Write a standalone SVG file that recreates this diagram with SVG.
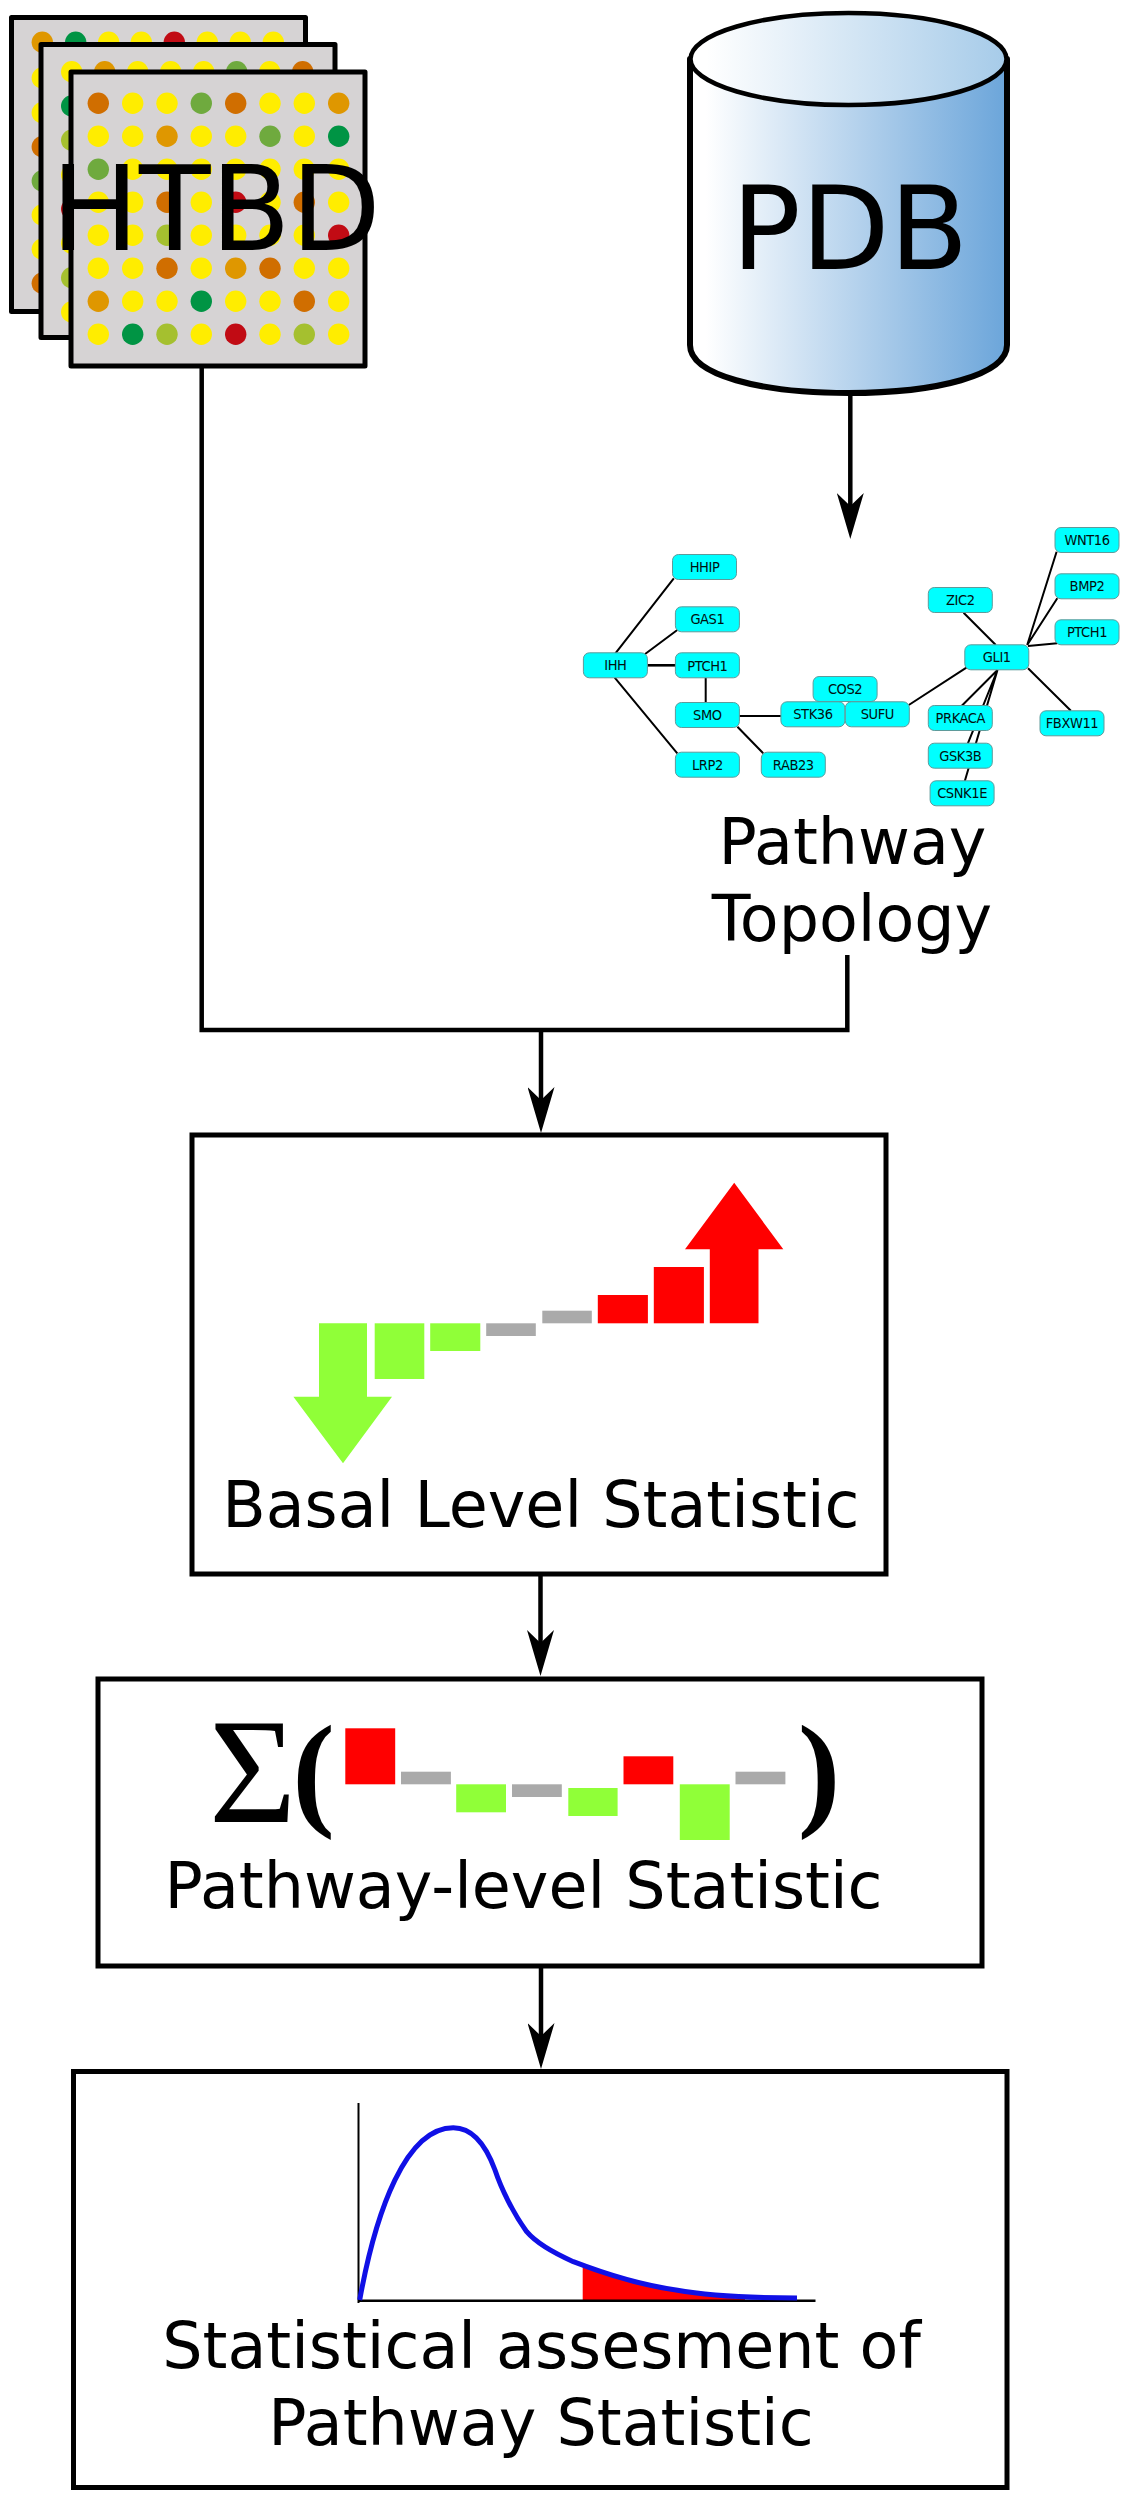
<svg xmlns="http://www.w3.org/2000/svg" width="1131" height="2500" viewBox="0 0 1131 2500">
<style>
text{font-family:"DejaVu Sans",sans-serif;fill:#000}
.lbl{font-size:63.5px;text-anchor:middle}
.card{fill:#d6d3d4;stroke:#000;stroke-width:5;stroke-linejoin:round}
.box{fill:#fff;stroke:#000;stroke-width:5}
.Y{fill:#ffed00}.O{fill:#df9700}.D{fill:#d06e00}.G{fill:#6faa3e}.K{fill:#009444}.L{fill:#a5c02f}.R{fill:#c10b14}
.red{fill:#f00}.grn{fill:#90ff38}.gry{fill:#aaa}
.wire{fill:none;stroke:#000;stroke-width:4.5}
.edge{stroke:#000;stroke-width:2;fill:none}
.nb{fill:#0ff;stroke:#5f9a9a;stroke-width:1}
.nt{font-family:"DejaVu Sans Condensed","DejaVu Sans",sans-serif;font-stretch:condensed;font-size:14.5px;letter-spacing:-.4px;text-anchor:middle;fill:#001010}
.paren{font-family:"Liberation Serif",serif;font-weight:bold;font-size:128px}
</style>
<defs>
<linearGradient id="cyl" x1="0" x2="1" y1="0" y2="0"><stop offset="0.05" stop-color="#fff"/><stop offset="1" stop-color="#6ba5da"/></linearGradient>
<linearGradient id="cyltop" x1="0" x2="1" y1="0" y2="0"><stop offset="0.05" stop-color="#fff"/><stop offset="1" stop-color="#a6cbe9"/></linearGradient>
<marker id="arr" viewBox="0 0 46 27" refX="13" refY="13.5" markerWidth="46" markerHeight="27" markerUnits="userSpaceOnUse" orient="auto"><path d="M46,13.5 L0,0 L13,13.5 L0,27 Z" fill="#000"/></marker>
</defs>
<rect width="1131" height="2500" fill="#fff"/>

<g id="connectors">
<path class="wire" d="M850.3,393 V506" marker-end="url(#arr)"/>
<path class="wire" d="M201.7,366 V1030 H847.3 V955"/>
<path class="wire" d="M541,1030 V1100" marker-end="url(#arr)"/>
<path class="wire" d="M540.5,1574 V1643" marker-end="url(#arr)"/>
<path class="wire" d="M541,1966 V2036" marker-end="url(#arr)"/>
</g>

<g id="htbd">
<rect class="card" x="11.5" y="17.5" width="294" height="294"/>
<g>
<circle class="O" cx="42.3" cy="42.3" r="10.7"/><circle class="K" cx="75.7" cy="42.3" r="10.7"/><circle class="Y" cx="108.7" cy="42.3" r="10.7"/><circle class="Y" cx="141.3" cy="42.3" r="10.7"/><circle class="R" cx="174.3" cy="42.3" r="10.7"/><circle class="Y" cx="207.3" cy="42.3" r="10.7"/><circle class="Y" cx="240.3" cy="42.3" r="10.7"/><circle class="Y" cx="273.3" cy="42.3" r="10.7"/>
<circle class="Y" cx="42.3" cy="78" r="10.7"/><circle class="Y" cx="42.3" cy="112.7" r="10.7"/><circle class="D" cx="42.3" cy="146.7" r="10.7"/><circle class="G" cx="42.3" cy="181" r="10.7"/><circle class="Y" cx="42.3" cy="215" r="10.7"/><circle class="Y" cx="42.3" cy="249.3" r="10.7"/><circle class="D" cx="42.3" cy="283.3" r="10.7"/>
</g>
<rect class="card" x="41" y="44.5" width="294" height="293"/>
<g>
<circle class="Y" cx="71.7" cy="71.7" r="10.7"/><circle class="O" cx="104.7" cy="71.7" r="10.7"/><circle class="Y" cx="137.7" cy="71.7" r="10.7"/><circle class="Y" cx="170.7" cy="71.7" r="10.7"/><circle class="Y" cx="203.7" cy="71.7" r="10.7"/><circle class="G" cx="236.7" cy="71.7" r="10.7"/><circle class="Y" cx="269.7" cy="71.7" r="10.7"/><circle class="D" cx="302.7" cy="71.7" r="10.7"/>
<circle class="K" cx="71.7" cy="106" r="10.7"/><circle class="L" cx="71.7" cy="140.3" r="10.7"/><circle class="Y" cx="71.7" cy="174.7" r="10.7"/><circle class="R" cx="71.7" cy="209" r="10.7"/><circle class="Y" cx="71.7" cy="243.3" r="10.7"/><circle class="L" cx="71.7" cy="277.7" r="10.7"/><circle class="Y" cx="71.7" cy="312" r="10.7"/>
</g>
<rect class="card" x="71" y="72" width="294" height="294"/>
<g>
<circle class="D" cx="98.3" cy="103.3" r="10.7"/><circle class="Y" cx="132.7" cy="103.3" r="10.7"/><circle class="Y" cx="167" cy="103.3" r="10.7"/><circle class="G" cx="201.3" cy="103.3" r="10.7"/><circle class="D" cx="235.7" cy="103.3" r="10.7"/><circle class="Y" cx="270" cy="103.3" r="10.7"/><circle class="Y" cx="304.3" cy="103.3" r="10.7"/><circle class="O" cx="338.7" cy="103.3" r="10.7"/>
<circle class="Y" cx="98.3" cy="136.3" r="10.7"/><circle class="Y" cx="132.7" cy="136.3" r="10.7"/><circle class="O" cx="167" cy="136.3" r="10.7"/><circle class="Y" cx="201.3" cy="136.3" r="10.7"/><circle class="Y" cx="235.7" cy="136.3" r="10.7"/><circle class="G" cx="270" cy="136.3" r="10.7"/><circle class="Y" cx="304.3" cy="136.3" r="10.7"/><circle class="K" cx="338.7" cy="136.3" r="10.7"/>
<circle class="G" cx="98.3" cy="169.3" r="10.7"/><circle class="Y" cx="132.7" cy="169.3" r="10.7"/><circle class="Y" cx="167" cy="169.3" r="10.7"/><circle class="Y" cx="201.3" cy="169.3" r="10.7"/><circle class="Y" cx="235.7" cy="169.3" r="10.7"/><circle class="Y" cx="270" cy="169.3" r="10.7"/><circle class="Y" cx="304.3" cy="169.3" r="10.7"/><circle class="Y" cx="338.7" cy="169.3" r="10.7"/>
<circle class="Y" cx="98.3" cy="202.3" r="10.7"/><circle class="Y" cx="132.7" cy="202.3" r="10.7"/><circle class="D" cx="167" cy="202.3" r="10.7"/><circle class="Y" cx="201.3" cy="202.3" r="10.7"/><circle class="R" cx="235.7" cy="202.3" r="10.7"/><circle class="Y" cx="270" cy="202.3" r="10.7"/><circle class="D" cx="304.3" cy="202.3" r="10.7"/><circle class="Y" cx="338.7" cy="202.3" r="10.7"/>
<circle class="Y" cx="98.3" cy="235.3" r="10.7"/><circle class="Y" cx="132.7" cy="235.3" r="10.7"/><circle class="L" cx="167" cy="235.3" r="10.7"/><circle class="Y" cx="201.3" cy="235.3" r="10.7"/><circle class="Y" cx="235.7" cy="235.3" r="10.7"/><circle class="Y" cx="270" cy="235.3" r="10.7"/><circle class="Y" cx="304.3" cy="235.3" r="10.7"/><circle class="R" cx="338.7" cy="235.3" r="10.7"/>
<circle class="Y" cx="98.3" cy="268.3" r="10.7"/><circle class="Y" cx="132.7" cy="268.3" r="10.7"/><circle class="D" cx="167" cy="268.3" r="10.7"/><circle class="Y" cx="201.3" cy="268.3" r="10.7"/><circle class="O" cx="235.7" cy="268.3" r="10.7"/><circle class="D" cx="270" cy="268.3" r="10.7"/><circle class="Y" cx="304.3" cy="268.3" r="10.7"/><circle class="Y" cx="338.7" cy="268.3" r="10.7"/>
<circle class="O" cx="98.3" cy="301.3" r="10.7"/><circle class="Y" cx="132.7" cy="301.3" r="10.7"/><circle class="Y" cx="167" cy="301.3" r="10.7"/><circle class="K" cx="201.3" cy="301.3" r="10.7"/><circle class="Y" cx="235.7" cy="301.3" r="10.7"/><circle class="Y" cx="270" cy="301.3" r="10.7"/><circle class="D" cx="304.3" cy="301.3" r="10.7"/><circle class="Y" cx="338.7" cy="301.3" r="10.7"/>
<circle class="Y" cx="98.3" cy="334.3" r="10.7"/><circle class="K" cx="132.7" cy="334.3" r="10.7"/><circle class="L" cx="167" cy="334.3" r="10.7"/><circle class="Y" cx="201.3" cy="334.3" r="10.7"/><circle class="R" cx="235.7" cy="334.3" r="10.7"/><circle class="Y" cx="270" cy="334.3" r="10.7"/><circle class="L" cx="304.3" cy="334.3" r="10.7"/><circle class="Y" cx="338.7" cy="334.3" r="10.7"/>
</g>
<text x="216" y="250" font-size="117" text-anchor="middle">HTBD</text>
</g>

<g id="pdb">
<path d="M690,59 V345 C690,375 760,393 848.5,393 C937,393 1007,375 1007,345 V59 Z" fill="url(#cyl)" stroke="#000" stroke-width="6" stroke-linejoin="round"/>
<ellipse cx="848.5" cy="59" rx="158" ry="46" fill="url(#cyltop)" stroke="#000" stroke-width="4.5"/>
<text x="850" y="268.6" font-size="115" text-anchor="middle">PDB</text>
</g>

<g id="pathway-topology">
<g class="edges">
<path class="edge" d="M615.4,653.3 L673.8,578.3 M645.1,654 L677.3,630 M614.7,677.7 L677.3,753.3 M705.7,677.7 V702.7 M739.2,716 H781.1 M737.4,726.7 L763.2,753.3 M908.8,705 L966.4,667.7 M963.6,612.7 L995.8,645 M1027.2,645 L1056.6,551.7 M1027.2,645 L1057.3,598.3 M1028,646 L1057.3,643.3 M1028,668.3 L1070.9,710.7 M997.5,670 L961.8,705.7 M997.5,670 L967.9,743.3 M997.5,670 L964.6,781.7"/>
<path class="edge" style="stroke-width:2.6" d="M647.3,665.3 H675.9"/>
</g>
<g id="n-hhip"><rect class="nb" x="672.5" y="554.5" width="64" height="25" rx="6"/><text class="nt" x="704.5" y="572">HHIP</text></g>
<g id="n-gas1"><rect class="nb" x="675.4" y="606.8" width="64" height="25" rx="6"/><text class="nt" x="707.4" y="624.3">GAS1</text></g>
<g id="n-ihh"><rect class="nb" x="583.4" y="652.8" width="64" height="25" rx="6"/><text class="nt" x="615.4" y="670.3">IHH</text></g>
<g id="n-ptch1a"><rect class="nb" x="675.4" y="652.8" width="64" height="25" rx="6"/><text class="nt" x="707.4" y="670.5">PTCH1</text></g>
<g id="n-smo"><rect class="nb" x="675.4" y="702.5" width="64" height="25" rx="6"/><text class="nt" x="707.4" y="720">SMO</text></g>
<g id="n-lrp2"><rect class="nb" x="675.4" y="752.2" width="64" height="25" rx="6"/><text class="nt" x="707.4" y="769.7">LRP2</text></g>
<g id="n-rab23"><rect class="nb" x="761.3" y="752.2" width="64" height="25" rx="6"/><text class="nt" x="793.3" y="769.7">RAB23</text></g>
<g id="n-cos2"><rect class="nb" x="813.1" y="676.5" width="64" height="25" rx="6"/><text class="nt" x="845.1" y="694">COS2</text></g>
<g id="n-stk36"><rect class="nb" x="780.9" y="701.8" width="64" height="25" rx="6"/><text class="nt" x="812.9" y="719.3">STK36</text></g>
<g id="n-sufu"><rect class="nb" x="845.3" y="701.8" width="64" height="25" rx="6"/><text class="nt" x="877.3" y="719.3">SUFU</text></g>
<g id="n-gli1"><rect class="nb" x="964.8" y="644.8" width="64" height="25" rx="6"/><text class="nt" x="996.8" y="662.3">GLI1</text></g>
<g id="n-zic2"><rect class="nb" x="928.3" y="587.5" width="64" height="25" rx="6"/><text class="nt" x="960.3" y="605">ZIC2</text></g>
<g id="n-wnt16"><rect class="nb" x="1055" y="527.5" width="64" height="25" rx="6"/><text class="nt" x="1087" y="545">WNT16</text></g>
<g id="n-bmp2"><rect class="nb" x="1055" y="573.8" width="64" height="25" rx="6"/><text class="nt" x="1087" y="591.3">BMP2</text></g>
<g id="n-ptch1b"><rect class="nb" x="1055" y="619.8" width="64" height="25" rx="6"/><text class="nt" x="1087" y="637.3">PTCH1</text></g>
<g id="n-fbxw11"><rect class="nb" x="1040" y="710.8" width="64" height="25" rx="6"/><text class="nt" x="1072" y="728.3">FBXW11</text></g>
<g id="n-prkaca"><rect class="nb" x="928.3" y="705.5" width="64" height="25" rx="6"/><text class="nt" x="960.3" y="723">PRKACA</text></g>
<g id="n-gsk3b"><rect class="nb" x="928.3" y="743.2" width="64" height="25" rx="6"/><text class="nt" x="960.3" y="760.7">GSK3B</text></g>
<g id="n-csnk1e"><rect class="nb" x="930.1" y="780.8" width="64" height="25" rx="6"/><text class="nt" x="962.1" y="798.3">CSNK1E</text></g>
<text class="lbl" x="852.5" y="864.3">Pathway</text>
<text class="lbl" x="852" y="940.7">Topology</text>
</g>

<g id="basal-level-statistic">
<rect class="box" x="192" y="1135" width="694" height="439"/>
<path class="grn" d="M319,1323.3 H367 V1396.7 H392 L343,1463.3 L293.4,1396.7 H319 Z"/>
<rect class="grn" x="374.7" y="1323.3" width="49.6" height="55.7"/>
<rect class="grn" x="430.2" y="1323.3" width="50.1" height="27.7"/>
<rect class="gry" x="486.2" y="1323.3" width="49.6" height="12.7"/>
<rect class="gry" x="542.3" y="1310.7" width="49.5" height="12.6"/>
<rect class="red" x="597.8" y="1295" width="50.1" height="28.3"/>
<rect class="red" x="653.8" y="1267" width="50.1" height="56.3"/>
<path class="red" d="M709.8,1323.3 V1249.3 H685 L734.2,1182.7 L783.3,1249.3 H758.5 V1323.3 Z"/>
<text class="lbl" x="540.8" y="1526.5">Basal Level Statistic</text>
</g>

<g id="pathway-level-statistic">
<rect class="box" x="98" y="1679" width="884" height="287"/>
<text x="209" y="1821.5" font-size="150" style="font-family:'Liberation Serif',serif">Σ<tspan class="paren" dx="-4" dy="-9">(</tspan></text>
<rect class="red" x="345.3" y="1728.3" width="49.9" height="56"/>
<rect class="gry" x="401" y="1771.7" width="49.9" height="12.6"/>
<rect class="grn" x="456.2" y="1784.3" width="49.8" height="28"/>
<rect class="gry" x="512" y="1784.3" width="49.8" height="12.7"/>
<rect class="grn" x="568.3" y="1788" width="49.3" height="28"/>
<rect class="red" x="623.5" y="1756.3" width="49.8" height="28"/>
<rect class="grn" x="679.8" y="1784.3" width="49.9" height="55.7"/>
<rect class="gry" x="735.5" y="1771.7" width="49.9" height="12.6"/>
<text class="paren" x="819" y="1812.5" text-anchor="middle">)</text>
<text class="lbl" x="523.5" y="1908.3">Pathway-level Statistic</text>
</g>

<g id="statistical-assessment">
<rect class="box" x="73.5" y="2071.5" width="933.5" height="416"/>
<path class="red" d="M582.7,2265 C600,2272 640,2285 676,2290 C700,2294 720,2297 745,2299 V2300 H582.7 Z"/>
<path d="M358.5,2103 V2303" stroke="#000" stroke-width="2" fill="none"/>
<path d="M358.5,2300.7 H815.5" stroke="#000" stroke-width="2.5" fill="none"/>
<path d="M359.7,2300 C376,2210 406,2127.7 453.3,2127.7 C470,2127.7 484,2140 495,2170 C501,2188 513,2213 526.7,2231.7 C538,2245 556,2254 573.3,2261.7 C600,2272 640,2285 676,2290 C710,2296 750,2298 797,2298" fill="none" stroke="#1010e6" stroke-width="5"/>
<text class="lbl" x="541.5" y="2368.3">Statistical assesment of</text>
<text class="lbl" x="541" y="2445">Pathway Statistic</text>
</g>
</svg>
